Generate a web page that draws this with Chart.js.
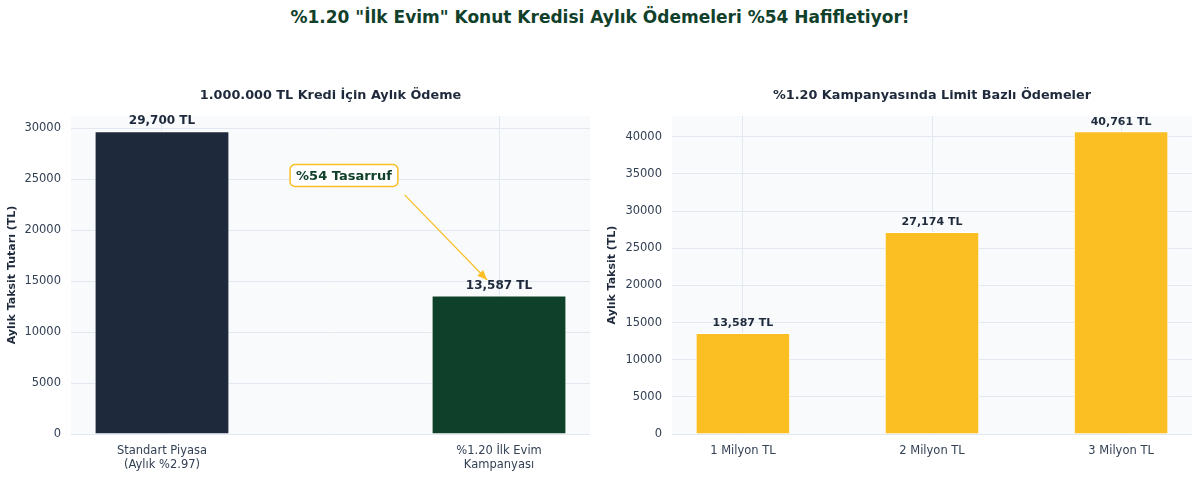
<!DOCTYPE html>
<html>
<head>
<meta charset="utf-8">
<script src="https://cdn.jsdelivr.net/npm/chart.js@4.4.1/dist/chart.umd.min.js"></script>
<style>
  body { margin:0; background:#fff; width:1200px; height:477px; position:relative; overflow:hidden; font-family:"DejaVu Sans", sans-serif; }
  #title { position:absolute; top:7px; left:0; width:1200px; text-align:center; font-size:17px; font-weight:bold; color:#11402b; }
  .box { position:absolute; top:80px; width:600px; height:397px; }
</style>
</head>
<body>
<div id="title">%1.20 "İlk Evim" Konut Kredisi Aylık Ödemeleri %54 Hafifletiyor!</div>
<div class="box" style="left:0"><canvas id="leftChart"></canvas></div>
<div class="box" style="left:600px"><canvas id="rightChart"></canvas></div>
<script>
// data
const compareLabels = [["Standart Piyasa", "(Aylık %2.97)"], ["%1.20 İlk Evim", "Kampanyası"]];
const compareValues = [29700, 13587];
const compareColors = ["#1e293b", "#0f4029"];

const limitLabels = ["1 Milyon TL", "2 Milyon TL", "3 Milyon TL"];
const limitValues = [13587, 27174, 40761];

const FONT = "'DejaVu Sans', sans-serif";
Chart.defaults.font.family = FONT;
Chart.defaults.color = "#334155";

/* plot background */
const bgPlugin = {
  id: "plotBg",
  beforeDraw(chart) {
    const a = chart.chartArea, ctx = chart.ctx;
    ctx.save();
    ctx.fillStyle = "#f8fafc";
    ctx.fillRect(a.left, a.top, a.right - a.left, a.bottom - a.top);
    ctx.restore();
  }
};

/* subplot title centred over the plot area */
const axTitle = {
  id: "axTitle",
  afterDraw(chart, args, opts) {
    const a = chart.chartArea, ctx = chart.ctx;
    ctx.save();
    ctx.font = "bold 12.8px " + FONT;
    ctx.fillStyle = "#1e293b";
    ctx.textAlign = "center";
    ctx.textBaseline = "middle";
    ctx.fillText(opts.text, (a.left + a.right) / 2, 16);
    ctx.restore();
  }
};

/* value labels above bars */
function valueLabels(size) {
  return {
    id: "valueLabels",
    afterDatasetsDraw(chart) {
      const ctx = chart.ctx;
      const ds = chart.data.datasets[0];
      ctx.save();
      ctx.font = "bold " + size + "px " + FONT;
      ctx.fillStyle = "#1e293b";
      ctx.textAlign = "center";
      ctx.textBaseline = "bottom";
      chart.getDatasetMeta(0).data.forEach((bar, i) => {
        const v = ds.data[i].y;
        ctx.fillText(v.toLocaleString("en-US") + " TL", bar.x, bar.y - 4);
      });
      ctx.restore();
    }
  };
}

/* savings note with arrow */
const noteAt = { x: 0.54, y: 25350 };
const arrowFrom = { x: 0.72, y: 23450 };
const arrowTo = { x: 0.965, y: 15100 };
const notePlugin = {
  id: "note",
  afterDatasetsDraw(chart) {
    const ctx = chart.ctx, sx = chart.scales.x, sy = chart.scales.y;
    const x0 = sx.getPixelForValue(arrowFrom.x), y0 = sy.getPixelForValue(arrowFrom.y);
    const x1 = sx.getPixelForValue(arrowTo.x), y1 = sy.getPixelForValue(arrowTo.y);
    ctx.save();
    ctx.strokeStyle = "#fbbf24";
    ctx.fillStyle = "#fbbf24";
    ctx.lineWidth = 1.2;
    ctx.beginPath(); ctx.moveTo(x0, y0); ctx.lineTo(x1, y1); ctx.stroke();
    const ang = Math.atan2(y1 - y0, x1 - x0);
    ctx.beginPath();
    ctx.moveTo(x1, y1);
    ctx.lineTo(x1 - 10 * Math.cos(ang) + 4 * Math.sin(ang), y1 - 10 * Math.sin(ang) - 4 * Math.cos(ang));
    ctx.lineTo(x1 - 10 * Math.cos(ang) - 4 * Math.sin(ang), y1 - 10 * Math.sin(ang) + 4 * Math.cos(ang));
    ctx.closePath(); ctx.fill();

    const tx = sx.getPixelForValue(noteAt.x), ty = sy.getPixelForValue(noteAt.y);
    ctx.font = "bold 13px " + FONT;
    const w = ctx.measureText("%54 Tasarruf").width + 12, h = 22;
    ctx.beginPath();
    ctx.roundRect(tx - w / 2, ty - h / 2, w, h, 5);
    ctx.fillStyle = "#ffffff"; ctx.fill();
    ctx.lineWidth = 1.5; ctx.strokeStyle = "#fbbf24"; ctx.stroke();
    ctx.fillStyle = "#11402b";
    ctx.textAlign = "center"; ctx.textBaseline = "middle";
    ctx.fillText("%54 Tasarruf", tx, ty + 1);
    ctx.restore();
  }
};

function makeChart(id, labels, values, colors, opts) {
  return new Chart(document.getElementById(id), {
    type: "bar",
    data: {
      datasets: [{
        data: values.map((v, i) => ({ x: i, y: v })),
        backgroundColor: colors,
        borderColor: "#ffffff",
        borderWidth: 1,
        barPercentage: opts.barPct,
        categoryPercentage: 1
      }]
    },
    options: {
      responsive: true,
      maintainAspectRatio: false,
      animation: false,
      layout: { padding: { left: 0, right: opts.padRight, top: 36, bottom: 0 } },
      plugins: {
        legend: { display: false },
        tooltip: { enabled: false },
        title: { display: false },
        axTitle: { text: opts.title }
      },
      scales: {
        x: {
          type: "linear",
          offset: false,
          min: opts.xMin, max: opts.xMax,
          afterBuildTicks: s => { s.ticks = labels.map((_, i) => ({ value: i })); },
          afterFit: s => { s.height = 43; },
          ticks: { callback: v => labels[v], font: { size: 11.5 }, color: "#334155", padding: 10, maxRotation: 0, autoSkip: false },
          grid: { color: "#e2e8f0", drawTicks: false, offset: false },
          border: { display: false }
        },
        y: {
          min: 0, max: opts.yMax,
          afterBuildTicks: s => {
            const t = [];
            for (let v = 0; v <= opts.yMax; v += opts.step) t.push({ value: v });
            s.ticks = t;
          },
          afterFit: s => { s.width = opts.yWidth; },
          ticks: { callback: v => String(v), font: { size: 11.5 }, color: "#334155", padding: 10 },
          grid: { color: "#e2e8f0", drawTicks: false },
          border: { display: false },
          title: { display: true, text: opts.yTitle, color: "#1e293b", font: { size: 11, weight: "bold" }, padding: { top: 6, bottom: 0 } }
        }
      }
    },
    plugins: [bgPlugin, axTitle].concat(opts.plugins)
  });
}

makeChart("leftChart", compareLabels, compareValues, compareColors, {
  title: "1.000.000 TL Kredi İçin Aylık Ödeme",
  yTitle: "Aylık Taksit Tutarı (TL)",
  xMin: -0.27, xMax: 1.27, barPct: 0.4,
  yMax: 31185, step: 5000, yWidth: 71, padRight: 10,
  plugins: [valueLabels(12), notePlugin]
});

makeChart("rightChart", limitLabels, limitValues, "#fbbf24", {
  title: "%1.20 Kampanyasında Limit Bazlı Ödemeler",
  yTitle: "Aylık Taksit (TL)",
  xMin: -0.375, xMax: 2.375, barPct: 0.5,
  yMax: 42799, step: 5000, yWidth: 72, padRight: 8,
  plugins: [valueLabels(11)]
});
</script>
</body>
</html>
